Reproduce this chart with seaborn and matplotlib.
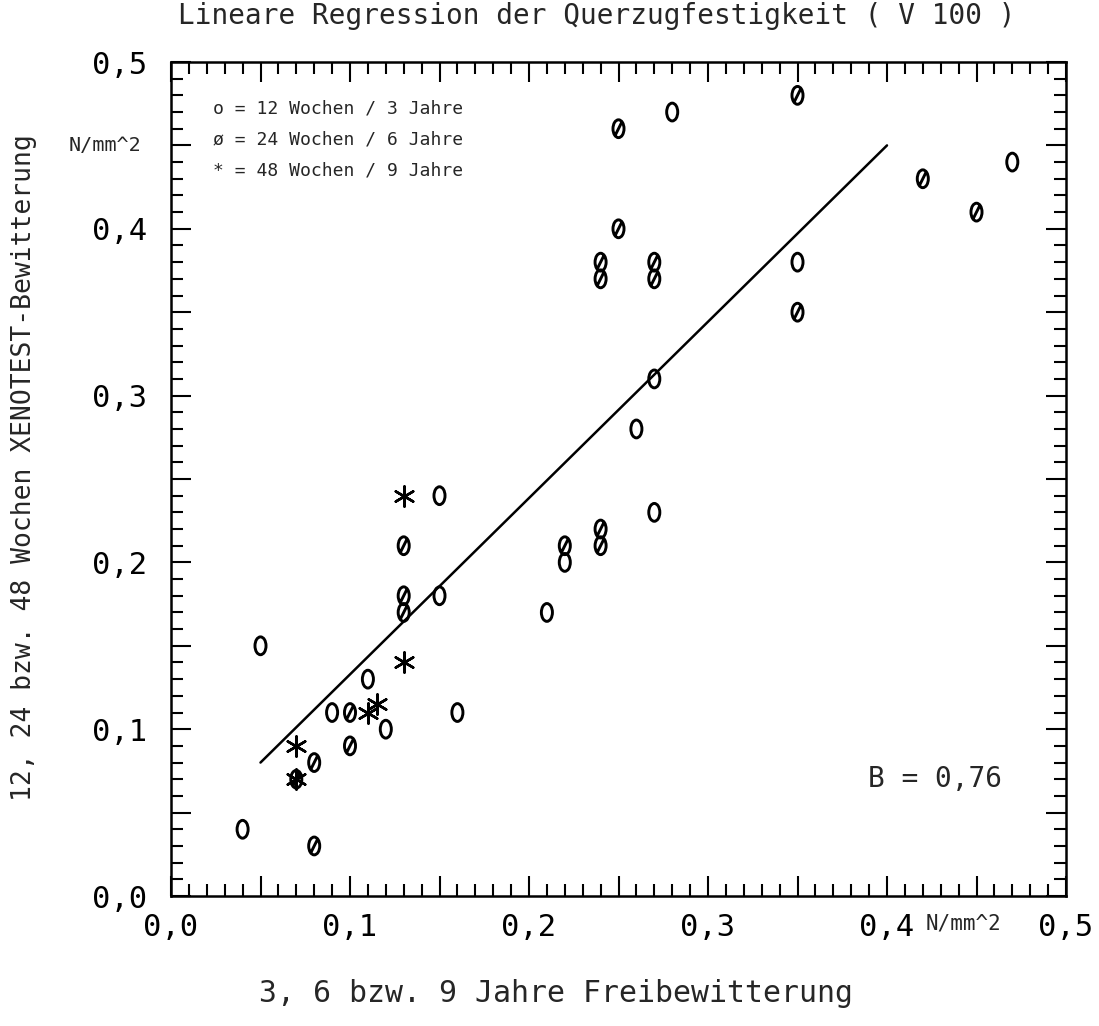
import numpy as np
import pandas as pd
import matplotlib
matplotlib.use("Agg")
import matplotlib.pyplot as plt
from matplotlib.path import Path
from matplotlib.ticker import MultipleLocator, FuncFormatter
import seaborn as sns

# ---- data ----
x_12w = [0.04, 0.05, 0.09, 0.11, 0.12, 0.15, 0.15, 0.16, 0.21, 0.22, 0.26, 0.27, 0.27, 0.28, 0.35, 0.47]
y_12w = [0.04, 0.15, 0.11, 0.13, 0.10, 0.24, 0.18, 0.11, 0.17, 0.20, 0.28, 0.31, 0.23, 0.47, 0.38, 0.44]

x_24w = [0.07, 0.08, 0.08, 0.10, 0.10, 0.13, 0.13, 0.13, 0.22, 0.24, 0.24, 0.24, 0.24,
         0.27, 0.27, 0.25, 0.25, 0.35, 0.35, 0.42, 0.45]
y_24w = [0.07, 0.08, 0.03, 0.11, 0.09, 0.21, 0.18, 0.17, 0.21, 0.22, 0.21, 0.38, 0.37,
         0.38, 0.37, 0.40, 0.46, 0.48, 0.35, 0.43, 0.41]

x_48w = [0.07, 0.07, 0.11, 0.115, 0.13, 0.13]
y_48w = [0.09, 0.07, 0.11, 0.115, 0.14, 0.24]

reg_x = [0.05, 0.40]
reg_y = [0.08, 0.45]

legend_lines = ["o = 12 Wochen / 3 Jahre",
                "ø = 24 Wochen / 6 Jahre",
                "* = 48 Wochen / 9 Jahre"]
title = "Lineare Regression der Querzugfestigkeit ( V 100 )"
xlabel = "3, 6 bzw. 9 Jahre Freibewitterung"
ylabel = "12, 24 bzw. 48 Wochen XENOTEST-Bewitterung"
unit = "N/mm^2"
b_text = "B = 0,76"

# ---- style ----
sns.set_style("white")
plt.rcParams["font.family"] = ["DejaVu Sans Mono"]

W, H = 1099, 1026
fig = plt.figure(figsize=(W / 100, H / 100), dpi=100)
ax = fig.add_axes([171 / W, 1 - 896 / H, 895 / W, 834 / H])

# plotter-like glyph markers
circ = Path.unit_circle()
zero_path = Path(circ.vertices * np.array([0.62, 1.0]), circ.codes)
slash = Path([[-0.34, -0.68], [0.34, 0.68]], [Path.MOVETO, Path.LINETO])
slashed_zero = Path.make_compound_path(zero_path, slash)

df12 = pd.DataFrame({"x": x_12w, "y": y_12w})
df24 = pd.DataFrame({"x": x_24w, "y": y_24w})
df48 = pd.DataFrame({"x": x_48w, "y": y_48w})

sns.scatterplot(data=df12, x="x", y="y", ax=ax, marker=zero_path, s=165,
                facecolor="none", edgecolor="black", linewidth=2.1, legend=False)
sns.scatterplot(data=df24, x="x", y="y", ax=ax, marker=slashed_zero, s=165,
                facecolor="none", edgecolor="black", linewidth=2.1, legend=False)
sns.scatterplot(data=df48, x="x", y="y", ax=ax, marker=(6, 2, 0), s=210,
                color="black", linewidth=1.8, legend=False)
sns.lineplot(x=reg_x, y=reg_y, ax=ax, color="black", linewidth=1.8)

ax.set_xlim(0, 0.5)
ax.set_ylim(0, 0.5)

fmt = FuncFormatter(lambda v, p: (f"{v:.1f}".replace(".", ",")
                                  if abs(v * 10 - round(v * 10)) < 1e-6 else ""))
for axis in (ax.xaxis, ax.yaxis):
    axis.set_major_locator(MultipleLocator(0.05))
    axis.set_minor_locator(MultipleLocator(0.01))
    axis.set_major_formatter(fmt)

ax.tick_params(which="both", direction="in", top=True, right=True,
               bottom=True, left=True, width=1.5, colors="black")
ax.tick_params(which="major", length=14.5)
ax.tick_params(which="minor", length=8.5)
ax.tick_params(axis="x", which="major", labelsize=22, pad=12)
ax.tick_params(axis="y", which="major", labelsize=22, pad=17)
for sp in ax.spines.values():
    sp.set_visible(True)
    sp.set_color("black")
    sp.set_linewidth(1.8)

ax.set_xlabel("")
ax.set_ylabel("")

# texts
fig.text(0.543, 1 - 16 / H, title, ha="center", va="center", fontsize=20)
fig.text(24 / W, 1 - 468 / H, ylabel, ha="center", va="center",
         rotation=90, fontsize=19)
fig.text(0.506, 1 - 993 / H, xlabel, ha="center", va="center", fontsize=21.5)

ax.text(-0.074, 0.45, unit, transform=ax.get_yaxis_transform(),
        ha="center", va="center", fontsize=14.5)
ax.text(0.443, -0.033, unit, transform=ax.get_xaxis_transform(),
        ha="center", va="center", fontsize=15)

for i, line in enumerate(legend_lines):
    ax.text(0.0235, 0.472 - 0.0185 * i, line, ha="left", va="center", fontsize=13)

ax.text(0.427, 0.07, b_text, ha="center", va="center", fontsize=20)

fig.savefig("out.png", dpi=100)
